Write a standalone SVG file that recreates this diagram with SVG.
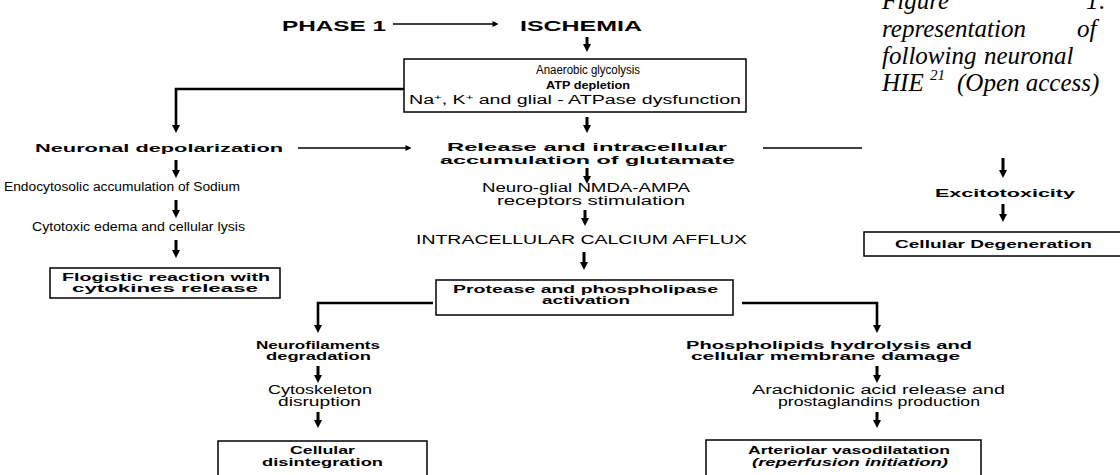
<svg xmlns="http://www.w3.org/2000/svg" width="1120" height="475" viewBox="0 0 1120 475">
<style>
text{font-family:"Liberation Sans",Arial,sans-serif;font-size:12px;fill:#000}
.b{font-weight:bold;font-size:11.5px}
.t{font-size:15px;font-weight:bold}
.cap{font-family:"Liberation Serif","Times New Roman",serif;font-style:italic;font-size:25px}
.sup{font-family:"Liberation Serif","Times New Roman",serif;font-style:italic;font-size:15px}
.box{fill:#fff;stroke:#000;stroke-width:1.5}
.dn{stroke:#000;stroke-width:3;fill:none}
.th{stroke:#000;stroke-width:1.6;fill:none}
.tk{stroke:#000;stroke-width:2.6;fill:none}
</style>
<defs>
<marker id="hd" viewBox="0 0 8 8" refX="2" refY="4" markerWidth="8" markerHeight="8" orient="auto" markerUnits="userSpaceOnUse"><path d="M0,0 L8,4 L0,8 z" fill="#000"/></marker>
<marker id="hs" viewBox="0 0 8 8" refX="2" refY="4" markerWidth="7" markerHeight="6" orient="auto" markerUnits="userSpaceOnUse"><path d="M0,0 L8,4 L0,8 z" fill="#000"/></marker>
</defs>
<rect width="1120" height="475" fill="#fff"/>

<g id="caption">
<text class="cap" x="882" y="9">Figure</text>
<text class="cap" x="1086" y="9">1:</text>
<text class="cap" x="882" y="37">representation</text>
<text class="cap" x="1077" y="37">of</text>
<text class="cap" x="882" y="64">following</text>
<text class="cap" x="984" y="64">neuronal</text>
<text class="cap" x="882" y="91">HIE</text>
<text class="sup" x="930" y="80">21</text>
<text class="cap" x="957" y="91">(Open access)</text>
</g>

<g id="connectors">
<line class="th" x1="393" y1="24" x2="494" y2="24" marker-end="url(#hs)"/>
<line class="dn" x1="587" y1="37" x2="587" y2="46" marker-end="url(#hd)"/>
<polyline class="tk" points="404,89 176,89 176,127" marker-end="url(#hd)"/>
<line class="dn" x1="587" y1="117" x2="587" y2="127" marker-end="url(#hd)"/>
<line class="th" x1="298" y1="148" x2="407" y2="148" marker-end="url(#hs)"/>
<line class="th" x1="763" y1="148" x2="862" y2="148"/>
<line class="dn" x1="1003" y1="158" x2="1003" y2="172" marker-end="url(#hd)"/>
<line class="dn" x1="1003" y1="204" x2="1003" y2="216" marker-end="url(#hd)"/>
<line class="dn" x1="176" y1="160" x2="176" y2="172" marker-end="url(#hd)"/>
<line class="dn" x1="176" y1="200" x2="176" y2="212" marker-end="url(#hd)"/>
<line class="dn" x1="176" y1="240" x2="176" y2="252" marker-end="url(#hd)"/>
<line class="dn" x1="587" y1="168" x2="587" y2="178" marker-end="url(#hd)"/>
<line class="dn" x1="585" y1="210" x2="585" y2="220" marker-end="url(#hd)"/>
<line class="dn" x1="584" y1="252" x2="584" y2="264" marker-end="url(#hd)"/>
<polyline class="tk" points="433,303 318,303 318,327" marker-end="url(#hd)"/>
<polyline class="tk" points="742,303 877,303 877,327" marker-end="url(#hd)"/>
<line class="dn" x1="318" y1="366" x2="318" y2="377" marker-end="url(#hd)"/>
<line class="dn" x1="318" y1="412" x2="318" y2="422" marker-end="url(#hd)"/>
<line class="dn" x1="877" y1="366" x2="877" y2="377" marker-end="url(#hd)"/>
<line class="dn" x1="877" y1="412" x2="877" y2="422" marker-end="url(#hd)"/>
</g>

<g id="phase1"><text class="t" x="282" y="31" textLength="104" lengthAdjust="spacingAndGlyphs">PHASE 1</text></g>
<g id="ischemia"><text class="t" x="520" y="31" textLength="122" lengthAdjust="spacingAndGlyphs">ISCHEMIA</text></g>

<g id="atp">
<rect class="box" x="404" y="59" width="342" height="53"/>
<text x="536" y="74" textLength="104" lengthAdjust="spacingAndGlyphs">Anaerobic glycolysis</text>
<text class="b" x="546" y="89" font-size="12" textLength="84" lengthAdjust="spacingAndGlyphs">ATP depletion</text>
<text x="409" y="104" textLength="332" lengthAdjust="spacingAndGlyphs">Na<tspan font-size="8" dy="-4">+</tspan><tspan dy="4">, K</tspan><tspan font-size="8" dy="-4">+</tspan><tspan dy="4"> and glial - ATPase dysfunction</tspan></text>
</g>

<g id="depol"><text class="b" x="35" y="152" textLength="248" lengthAdjust="spacingAndGlyphs">Neuronal depolarization</text></g>
<g id="sodium"><text x="4" y="191" textLength="236" lengthAdjust="spacingAndGlyphs">Endocytosolic accumulation of Sodium</text></g>
<g id="edema"><text x="32" y="231" textLength="213" lengthAdjust="spacingAndGlyphs">Cytotoxic edema and cellular lysis</text></g>
<g id="flogistic">
<rect class="box" x="50" y="268" width="230" height="30"/>
<text class="b" x="62" y="281" textLength="208" lengthAdjust="spacingAndGlyphs">Flogistic reaction with</text>
<text class="b" x="72" y="292" textLength="186" lengthAdjust="spacingAndGlyphs">cytokines release</text>
</g>

<g id="glutamate">
<text class="b" x="447" y="151" textLength="280" lengthAdjust="spacingAndGlyphs">Release and intracellular</text>
<text class="b" x="440" y="164" textLength="295" lengthAdjust="spacingAndGlyphs">accumulation of glutamate</text>
</g>
<g id="nmda">
<text x="482" y="192" textLength="208" lengthAdjust="spacingAndGlyphs">Neuro-glial NMDA-AMPA</text>
<text x="497" y="205" textLength="188" lengthAdjust="spacingAndGlyphs">receptors stimulation</text>
</g>
<g id="calcium"><text x="416" y="244" font-size="13.5" textLength="331" lengthAdjust="spacingAndGlyphs">INTRACELLULAR CALCIUM AFFLUX</text></g>
<g id="protease">
<rect class="box" x="436" y="280" width="297" height="35"/>
<text class="b" x="453" y="293" textLength="265" lengthAdjust="spacingAndGlyphs">Protease and phospholipase</text>
<text class="b" x="542" y="304" textLength="88" lengthAdjust="spacingAndGlyphs">activation</text>
</g>

<g id="excito"><text class="b" x="935" y="197" textLength="140" lengthAdjust="spacingAndGlyphs">Excitotoxicity</text></g>
<g id="degeneration">
<rect class="box" x="864" y="232" width="260" height="24"/>
<text class="b" x="895" y="248" textLength="197" lengthAdjust="spacingAndGlyphs">Cellular Degeneration</text>
</g>

<g id="neurofil">
<text class="b" x="256" y="349" textLength="124" lengthAdjust="spacingAndGlyphs">Neurofilaments</text>
<text class="b" x="266" y="360" textLength="105" lengthAdjust="spacingAndGlyphs">degradation</text>
</g>
<g id="cytoskeleton">
<text x="268" y="394" textLength="104" lengthAdjust="spacingAndGlyphs">Cytoskeleton</text>
<text x="278" y="406" textLength="83" lengthAdjust="spacingAndGlyphs">disruption</text>
</g>
<g id="disintegration">
<rect class="box" x="218" y="441" width="209" height="40"/>
<text class="b" x="290" y="454" textLength="65" lengthAdjust="spacingAndGlyphs">Cellular</text>
<text class="b" x="262" y="466" textLength="121" lengthAdjust="spacingAndGlyphs">disintegration</text>
</g>

<g id="phospholipids">
<text class="b" x="686" y="349" textLength="286" lengthAdjust="spacingAndGlyphs">Phospholipids hydrolysis and</text>
<text class="b" x="691" y="360" textLength="269" lengthAdjust="spacingAndGlyphs">cellular membrane damage</text>
</g>
<g id="arachidonic">
<text x="752" y="394" textLength="253" lengthAdjust="spacingAndGlyphs">Arachidonic acid release and</text>
<text x="778" y="406" textLength="202" lengthAdjust="spacingAndGlyphs">prostaglandins production</text>
</g>
<g id="vasodilatation">
<rect class="box" x="706" y="440" width="275" height="41"/>
<text class="b" x="748" y="454" textLength="202" lengthAdjust="spacingAndGlyphs">Arteriolar vasodilatation</text>
<text class="b" x="752" y="466" font-style="italic" textLength="196" lengthAdjust="spacingAndGlyphs">(reperfusion initiation)</text>
</g>
</svg>
